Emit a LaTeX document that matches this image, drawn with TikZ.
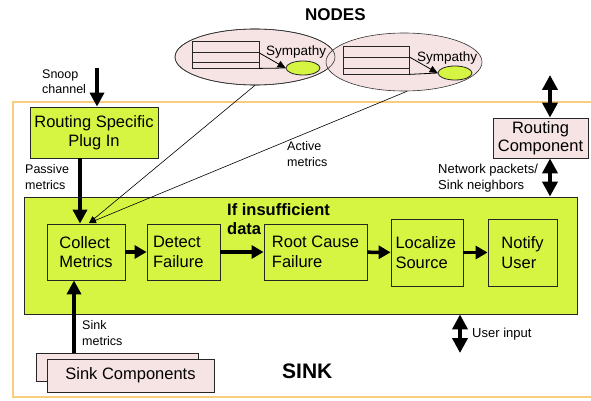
\documentclass[tikz,border=0pt]{standalone}
\usepackage{fontspec}
\setmainfont{Liberation Sans}
\usetikzlibrary{arrows.meta,shapes.geometric}
\definecolor{gfill}{RGB}{214,245,66}
\definecolor{pfill}{RGB}{246,228,228}
\definecolor{oframe}{RGB}{250,205,125}
\begin{document}
\begin{tikzpicture}[x=1pt,y=-1pt,
  box/.style={draw=black!85, line width=0.8pt, fill=gfill, inner sep=0pt, font=\fontsize{16.5}{19.5}\selectfont},
  pbox/.style={draw=black!85, line width=0.8pt, fill=pfill, inner sep=0pt, font=\fontsize{16.5}{17.5}\selectfont},
  lbl/.style={inner sep=0pt, align=left, font=\fontsize{12.5}{15.5}\selectfont, anchor=base west},
  bigtitle/.style={inner sep=0pt, anchor=base west, font=\bfseries\fontsize{#1}{#1}\selectfont},
  vthick/.style={line width=4pt, -{Triangle[length=14pt,width=14pt]}},
  hthick/.style={line width=3.5pt, -{Triangle[length=12pt,width=13pt]}},
  dblarrow/.style={line width=4.5pt, {Triangle[length=15pt,width=15pt]}-{Triangle[length=15pt,width=15pt]}},
  thinarrow/.style={line width=0.6pt, -{Triangle[length=7pt,width=6pt]}},
  symarrow/.style={line width=0.8pt, -{Triangle[length=8pt,width=7pt]}},
  tbl/.style={draw=black!85, line width=0.8pt, fill=pfill, inner sep=0pt},
  pell/.style={ellipse, draw=black!80, line width=0.6pt, fill=pfill, inner sep=0pt},
  gell/.style={ellipse, draw=black!85, line width=0.8pt, fill=gfill, inner sep=0pt},
]
\useasboundingbox (0,0) rectangle (591,401);
% SINK frame
\draw[oframe, line width=2pt] (13,102) rectangle (600,397);

% NODES ellipses
\node[pell, minimum width=160pt, minimum height=56pt] (node1) at (255,57) {};
\node[pell, minimum width=156pt, minimum height=58pt] (node2) at (404,62) {};
\draw[black!80, line width=0.6pt] (255,57) ellipse [x radius=80, y radius=28];

\node[tbl, minimum width=67pt, minimum height=27pt] (tab1) at (225.5,54.5) {};
\draw[black!85, line width=0.8pt] (192,52) -- (259,52) (192,62) -- (259,62);
\node[tbl, minimum width=66pt, minimum height=28pt] (tab2) at (376,60) {};
\draw[black!85, line width=0.8pt] (343,57) -- (409,57) (343,68) -- (409,68);

\node[gell, minimum width=34pt, minimum height=14pt] (sym1) at (303,68) {};
\node[gell, minimum width=34pt, minimum height=14pt] (sym2) at (455,73) {};
\node[lbl, font=\fontsize{13.5}{16}\selectfont] (symlab1) at (266,56) {Sympathy};
\node[lbl, font=\fontsize{13.5}{16}\selectfont] (symlab2) at (417,62) {Sympathy};
\draw[symarrow] ([yshift=1.5pt]tab1.east) -- (sym1.west);
\draw[line width=0.8pt] (tab1.south east) -- (sym1.west);
\draw[symarrow] ([yshift=3pt]tab2.east) -- (sym2.west);
\draw[line width=0.8pt] (tab2.south east) -- (sym2.west);

\node[bigtitle=17] (nodestitle) at (305,21) {NODES};

% big sink box
\node[box, minimum width=553pt, minimum height=117pt] (sinkbox) at (300.5,255.5) {};

\node[box, minimum width=78pt, minimum height=56pt, align=left] (collect) at (86,252) {Collect\\Metrics};
\node[box, minimum width=73pt, minimum height=56pt, text width=61pt, align=left] (detect) at (183.5,252) {Detect\\Failure};
\node[box, minimum width=103pt, minimum height=56pt, align=left] (root) at (315.5,252) {Root Cause\\Failure};
\node[box, minimum width=72pt, minimum height=67pt, text width=63pt, align=left] (localize) at (427,252.5) {Localize\\Source};
\node[box, minimum width=69pt, minimum height=67pt, align=left] (notify) at (522.5,252.5) {Notify\\User};

\node[inner sep=0pt, anchor=base west, align=left, font=\bfseries\fontsize{16.5}{19}\selectfont] (insuff) at (227,234) {If insufficient\\data};

\draw[hthick] (collect) -- (detect);
\draw[hthick] (detect) -- (root);
\draw[hthick] (root) -- (localize);
\draw[hthick] (localize) -- (notify);

% routing specific plug in
\node[box, minimum width=128pt, minimum height=51pt, align=center] (plug) at (94,132.5) {Routing Specific\\Plug In};
\coordinate (snooptop) at (97,68);
\draw[vthick] (snooptop) -- (snooptop |- plug.north);
\node[lbl] (snoop) at (42,94) {Snoop\\channel};
\coordinate (pm) at (80,0);
\draw[vthick] (pm |- plug.south) -- (pm |- collect.north);
\node[lbl] (passive) at (25,189) {Passive\\metrics};

% active metrics lines
\coordinate (cmtip) at (89,223);
\draw[thinarrow] (node1.south) -- (cmtip);
\draw[thinarrow] ([xshift=3pt]node2.south) -- (cmtip);
\node[lbl] (active) at (287,166) {Active\\metrics};

% routing component
\node[pbox, minimum width=95pt, minimum height=40pt, align=center] (routing) at (540.5,138) {Routing\\Component};
\coordinate (rtop) at (550,75);
\draw[dblarrow] (rtop) -- (rtop |- routing.north);
\draw[dblarrow] (rtop |- routing.south) -- (rtop |- sinkbox.north);
\node[lbl, font=\fontsize{13}{16}\selectfont] (netp) at (438,189) {Network packets/\\Sink neighbors};

% sink components
\node[pbox, minimum width=162pt, minimum height=28pt] (sinkback) at (117,367) {};
\node[pbox, minimum width=167pt, minimum height=33pt] (sinkcomp) at (130.5,375.5) {Sink Components};
\coordinate (sm) at (74,0);
\draw[vthick] (sm |- sinkback.north) -- (sm |- collect.south);
\node[lbl] (sinkmet) at (82,345) {Sink\\metrics};

% user input
\coordinate (ui) at (460,353);
\draw[dblarrow] (ui |- sinkbox.south) -- (ui);
\node[lbl, font=\fontsize{13}{16}\selectfont] (userin) at (472,337) {User input};

\node[bigtitle=21] (sinktitle) at (282,378) {SINK};
\end{tikzpicture}
\end{document}
